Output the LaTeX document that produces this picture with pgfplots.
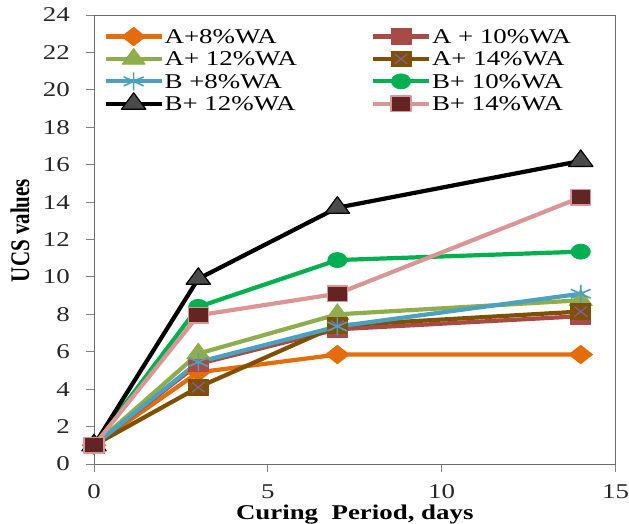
\documentclass[border=0pt]{standalone}
\usepackage{fontspec}
\setmainfont{Liberation Serif}[FakeStretch=1.28]
\newfontfamily\plainserif{Liberation Serif}
\usepackage{graphicx}
\usepackage{pgfplots}
\pgfplotsset{compat=1.18}
\definecolor{cAa}{HTML}{E46C0A}
\definecolor{cAb}{HTML}{A84B47}
\definecolor{cAc}{HTML}{8FAD4C}
\definecolor{cAd}{HTML}{7F5000}
\definecolor{cX}{HTML}{7F60A8}
\definecolor{cBa}{HTML}{4AA2C0}
\definecolor{cBb}{HTML}{00B050}
\definecolor{cBcf}{HTML}{4A4A4A}
\definecolor{cBd}{HTML}{D99694}
\definecolor{cBdf}{HTML}{632523}
\begin{document}
\begin{tikzpicture}
\begin{axis}[name=ax, scale only axis, width=521.5pt, height=449pt,
  xmin=0, xmax=15, ymin=0, ymax=24,
  xtick={0,5,10,15}, ytick={0,2,...,24},
  axis line style={draw=gray!85!black, line width=0.9pt},
  tick align=outside, major tick length=8pt, xtick pos=bottom, ytick pos=left,
  tick style={draw=gray, line width=0.9pt},
  ticklabel style={font=\fontsize{21}{25}\selectfont, text=black!85},
  /pgf/number format/assume math mode=true,
  xticklabel style={inner sep=0pt, yshift=-12.5pt},
  yticklabel style={inner sep=0pt, xshift=-16pt},
  xlabel={\textbf{Curing\ \ Period, days}},
  xlabel style={font=\fontsize{21}{25}\selectfont, inner sep=0pt, at={(axis description cs:0.5,0)}, anchor=base, yshift=-56pt},
  ylabel={\scalebox{1}[1.28]{\plainserif\bfseries UCS values}},
  ylabel style={font=\fontsize{21}{25}\selectfont, inner sep=0pt, at={(axis description cs:-0.1245,0.52)}, anchor=base},
  every axis plot/.append style={line join=round},
  legend cell align=left, legend columns=2,
  legend image code/.code={%
    \begin{pgfinterruptboundingbox}
    \draw[mark repeat=2,mark phase=2] plot coordinates {(0pt,0pt) (28pt,0pt) (56pt,0pt)};
    \end{pgfinterruptboundingbox}
    \path[draw=none, fill=none] (0pt,-7pt) rectangle (56pt,7pt);},
  legend style={at={(rel axis cs:0.022,0.968)}, anchor=north west, draw=none, fill=none,
    inner sep=0pt, font=\fontsize{21}{25}\selectfont, row sep=8.4pt,
    nodes={inner sep=0pt, text height=14pt, text depth=0pt},
    /tikz/every odd column/.append style={column sep=3pt},
    /tikz/every even column/.append style={column sep=76pt}},
]
\addplot[color=cAa, line width=4.2pt, mark=diamond*, mark size=9.25pt,
  mark options={solid, xscale=1.7, line width=0.8pt, fill=cAa}]
  coordinates {(0,1) (3,4.9) (7,5.85) (14,5.85)};
\addplot[color=cAb, line width=4.2pt, mark=square*, mark size=7.8pt,
  mark options={solid, xscale=1.28, line width=0.8pt, fill=cAb}]
  coordinates {(0,1) (3,5.35) (7,7.2) (14,7.9)};
\addplot[color=cAc, line width=4.2pt, mark=triangle*, mark size=10.5pt,
  mark options={solid, xscale=1.28, line width=0.8pt, fill=cAc}]
  coordinates {(0,1) (3,5.9) (7,8.0) (14,8.75)};
\addplot[color=cAd, line width=4.2pt, mark=square*, mark size=7.8pt,
  mark options={solid, xscale=1.28, line width=0.8pt, fill=cAd},
  legend image code/.code={%
    \begin{pgfinterruptboundingbox}
    \draw[mark repeat=2,mark phase=2] plot coordinates {(0pt,0pt) (28pt,0pt) (56pt,0pt)};
    \draw[cX, line width=1.2pt] plot[mark=x, mark size=7pt, mark options={xscale=1.28}] coordinates {(28pt,0pt)};
    \end{pgfinterruptboundingbox}
    \path[draw=none, fill=none] (0pt,-7pt) rectangle (56pt,7pt);}]
  coordinates {(0,1) (3,4.1) (7,7.4) (14,8.15)};
\addplot[forget plot, only marks, mark=x, mark size=7pt,
  mark options={xscale=1.28, line width=1.3pt, draw=cX}]
  coordinates {(0,1) (3,4.1) (7,7.4) (14,8.15)};
\addplot[color=cBa, line width=4.2pt, mark=asterisk, mark size=9pt,
  mark options={solid, xscale=1.28, line width=1.6pt}]
  coordinates {(0,1) (3,5.45) (7,7.35) (14,9.1)};
\addplot[color=cBb, line width=4.2pt, mark=*, mark size=7.5pt,
  mark options={solid, xscale=1.28, line width=0.8pt, fill=cBb}]
  coordinates {(0,1) (3,8.4) (7,10.9) (14,11.35)};
\addplot[color=black, line width=4.2pt, mark=triangle*, mark size=11pt,
  mark options={solid, xscale=1.28, line width=1.2pt, fill=cBcf, draw=black}]
  coordinates {(0,1) (3,9.9) (7,13.7) (14,16.2)};
\addplot[color=cBd, line width=4.2pt, mark=square*, mark size=7.8pt,
  mark options={solid, xscale=1.28, line width=1.5pt, fill=cBdf, draw=cBd}]
  coordinates {(0,1) (3,7.95) (7,9.1) (14,14.25)};
\legend{A+8\%WA, A + 10\%WA, A+ 12\%WA, A+ 14\%WA, B +8\%WA, B+ 10\%WA, B+ 12\%WA, B+ 14\%WA}
\end{axis}
\pgfresetboundingbox
\path[use as bounding box] ([xshift=-94pt,yshift=-60pt]ax.south west) rectangle ([xshift=13.5pt,yshift=15pt]ax.north east);
\end{tikzpicture}
\end{document}
